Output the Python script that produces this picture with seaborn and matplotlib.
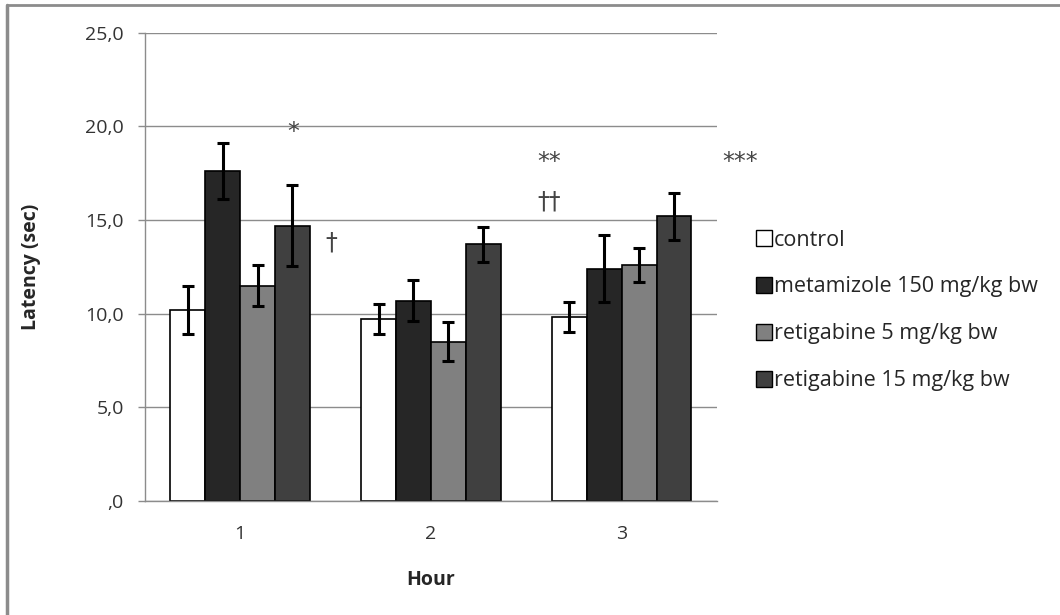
import matplotlib
matplotlib.use("Agg")
import matplotlib.pyplot as plt
import pandas as pd
import seaborn as sns
from matplotlib.lines import Line2D

hours = ["1", "2", "3"]
groups = ["control", "metamizole 150 mg/kg bw",
          "retigabine 5 mg/kg bw", "retigabine 15 mg/kg bw"]
control = [10.2, 9.7, 9.8]
metamizole = [17.6, 10.7, 12.4]
retig5 = [11.5, 8.5, 12.6]
retig15 = [14.7, 13.7, 15.2]
control_err = [1.3, 0.8, 0.8]
metamizole_err = [1.5, 1.1, 1.8]
retig5_err = [1.1, 1.05, 0.9]
retig15_err = [2.15, 0.95, 1.25]
colors = ["#ffffff", "#262626", "#808080", "#404040"]

# significance marks: (x in category units, y value, text)
marks = [(0.28, 19.7, "*"), (0.48, 13.8, "†"),
         (1.62, 18.1, "**"), (1.62, 16.0, "††"), (2.62, 18.1, "***")]

values = [control, metamizole, retig5, retig15]
errors = [control_err, metamizole_err, retig5_err, retig15_err]
df = pd.DataFrame({
    "Hour": hours * 4,
    "group": [g for g in groups for _ in hours],
    "value": [v for vals in values for v in vals],
})

sns.set_style("white")
plt.rcParams["font.family"] = ["Open Sans", "DejaVu Sans"]

fig = plt.figure(figsize=(10.6, 6.15), dpi=100)
ax = fig.add_axes([0.1365, 0.1854, 0.54, 0.7615])

sns.barplot(data=df, x="Hour", y="value", hue="group", hue_order=groups,
            palette=colors, width=0.73, errorbar=None, edgecolor="black",
            linewidth=1.2, ax=ax, legend=False)

for cont, err in zip(ax.containers, errors):
    xs = [b.get_x() + b.get_width() / 2 for b in cont]
    ys = [b.get_height() for b in cont]
    ax.errorbar(xs, ys, yerr=err, fmt="none", ecolor="black",
                elinewidth=2.2, capsize=4.5, capthick=2.2, zorder=5)

ax.set_ylim(0, 25)
ax.set_xlim(-0.5, 2.5)
ax.set_yticks([0, 5, 10, 15, 20, 25])
ax.set_yticklabels([",0", "5,0", "10,0", "15,0", "20,0", "25,0"])
ax.yaxis.grid(True, color="#8c8c8c", linewidth=1)
ax.set_axisbelow(True)
for s in ["top", "right"]:
    ax.spines[s].set_visible(False)
for s in ["left", "bottom"]:
    ax.spines[s].set_color("#8c8c8c")
    ax.spines[s].set_linewidth(1)

ax.set_xticks([-0.5, 0.5, 1.5, 2.5], minor=True)
ax.tick_params(axis="x", which="minor", length=7, color="#8c8c8c", width=1)
ax.tick_params(axis="x", which="major", length=0, pad=17, labelsize=14,
               labelcolor="#333333")
ax.tick_params(axis="y", left=True, length=5, color="#8c8c8c", width=1,
               pad=10, labelsize=14, labelcolor="#333333")

ax.set_xlabel("Hour", fontsize=14, fontweight="bold", labelpad=20)
ax.set_ylabel("Latency (sec)", fontsize=14, fontweight="bold", labelpad=32)

for x, y, t in marks:
    ax.text(x, y, t, ha="center", va="center", fontsize=17,
            color="#444444", family=["DejaVu Sans"], clip_on=False)

handles = [Line2D([], [], marker="s", linestyle="none", markersize=11,
                  markerfacecolor=c, markeredgecolor="black")
           for c in colors]
ax.legend(handles, groups, loc="center left", bbox_to_anchor=(1.05, 0.407),
          frameon=False, fontsize=15.5, handletextpad=0.1,
          labelspacing=1.2, handlelength=0.7, borderpad=0)

# outer chart frame
fig.add_artist(Line2D([0.0066, 0.0066], [0, 0.992], color="#8c8c8c",
                      linewidth=2.5, transform=fig.transFigure))
fig.add_artist(Line2D([0.0066, 1], [0.992, 0.992], color="#8c8c8c",
                      linewidth=2, transform=fig.transFigure))

fig.savefig("out.png", dpi=100)
